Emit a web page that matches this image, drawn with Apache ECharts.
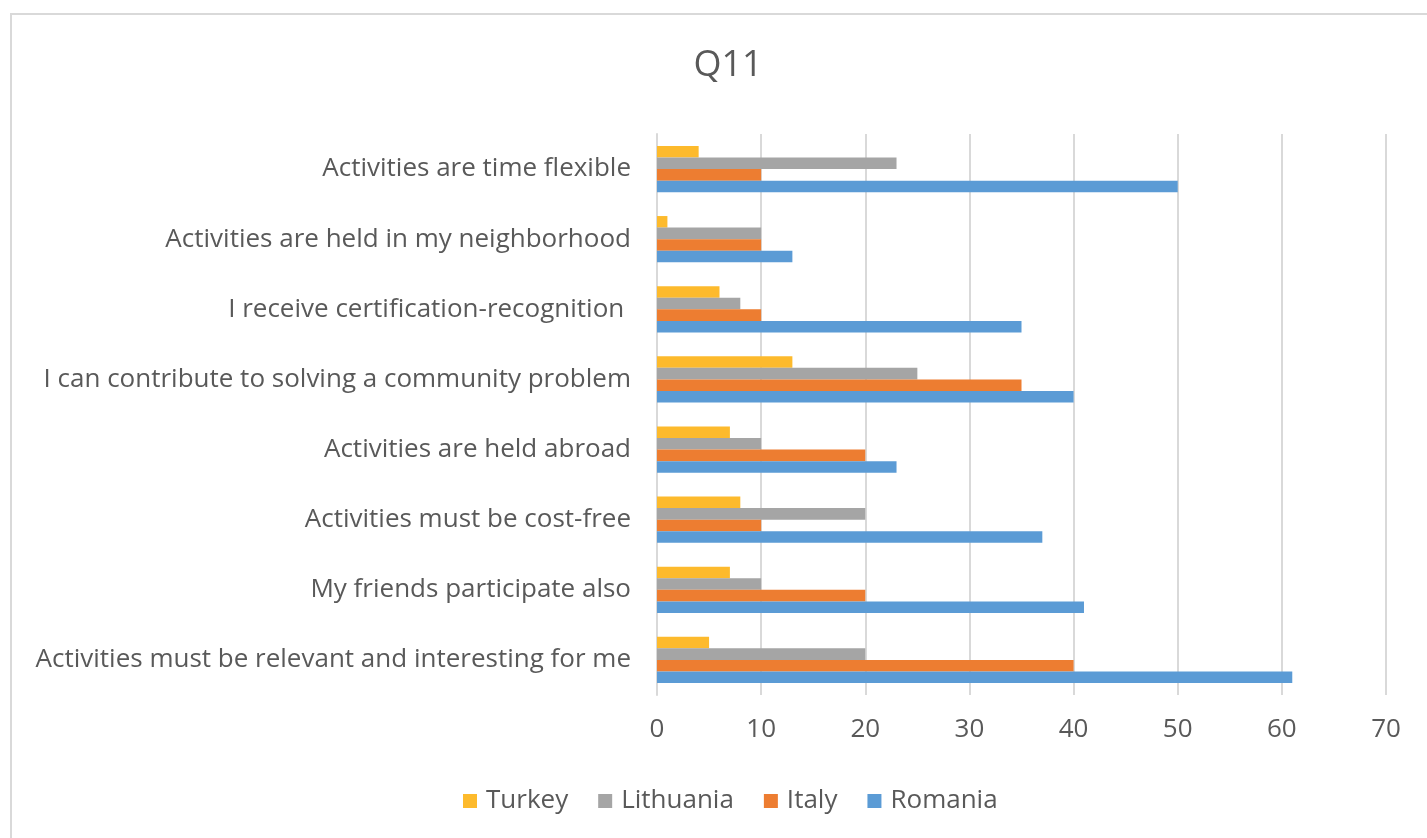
<!DOCTYPE html>
<html>
<head>
<meta charset="utf-8">
<script src="https://cdn.jsdelivr.net/npm/echarts@6/dist/echarts.min.js"></script>
<style>
html,body{margin:0;padding:0;background:#fff;}
#chart{width:1427px;height:838px;}
#frame{position:absolute;left:10px;top:13px;width:1500px;height:900px;border-left:2px solid #d9d9d9;border-top:2px solid #d9d9d9;pointer-events:none;}
</style>
</head>
<body>
<div id="chart"></div>
<div id="frame"></div>
<script>
// categories listed bottom-to-top (ECharts category y axis starts at the bottom)
const categories = [
  "Activities must be relevant and interesting for me",
  "My friends participate also",
  "Activities must be cost-free",
  "Activities are held abroad",
  "I can contribute to solving a community problem",
  "I receive certification-recognition ",
  "Activities are held in my neighborhood",
  "Activities are time flexible"
];
const turkey    = [5, 7, 8, 7, 13, 6, 1, 4];
const lithuania = [20, 10, 20, 10, 25, 8, 10, 23];
const italy     = [40, 20, 10, 20, 35, 10, 10, 10];
const romania   = [61, 41, 37, 23, 40, 35, 13, 50];
const legendNames = ["Turkey", "Lithuania", "Italy", "Romania"];
const xTicks = [0, 10, 20, 30, 40, 50, 60, 70];

const font = "'Open Sans', sans-serif";
const chart = echarts.init(document.getElementById('chart'));
chart.setOption({
  animation: false,
  backgroundColor: '#ffffff',
  title: {
    text: 'Q11', left: 723, top: 43, textAlign: 'center',
    textStyle: { fontFamily: font, fontSize: 36, fontWeight: 'normal', color: '#595959' }
  },
  legend: {
    data: legendNames, top: 783, left: 458,
    itemWidth: 14, itemHeight: 14, itemGap: 30, icon: 'rect',
    textStyle: { fontFamily: font, fontSize: 26, color: '#595959', padding: [0, 0, 0, 4] }
  },
  grid: { left: 657, right: 41, top: 134, bottom: 143, containLabel: false },
  xAxis: {
    type: 'value', min: xTicks[0], max: xTicks[xTicks.length - 1], interval: 10,
    axisLine: { show: false }, axisTick: { show: false },
    splitLine: { lineStyle: { color: '#d9d9d9', width: 2 } },
    axisLabel: { margin: 22, fontFamily: font, fontSize: 26, color: '#595959' }
  },
  yAxis: {
    type: 'category', data: categories,
    axisLine: { lineStyle: { color: '#d9d9d9', width: 2 } },
    axisTick: { show: false },
    axisLabel: { margin: 26, fontFamily: font, fontSize: 26, color: '#595959' }
  },
  series: [
    { name: 'Turkey', type: 'bar', data: turkey, itemStyle: { color: '#fdba2c' }, barGap: '0%', barCategoryGap: '34%' },
    { name: 'Lithuania', type: 'bar', data: lithuania, itemStyle: { color: '#a5a5a5' } },
    { name: 'Italy', type: 'bar', data: italy, itemStyle: { color: '#ed7d31' } },
    { name: 'Romania', type: 'bar', data: romania, itemStyle: { color: '#5b9bd5' } }
  ]
});
</script>
</body>
</html>
